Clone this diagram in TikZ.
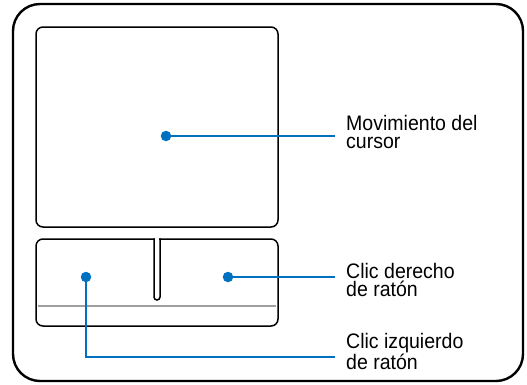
\documentclass[tikz,border=0pt]{standalone}
\usepackage{fontspec}
\setmainfont{Liberation Sans}
\newfontfamily\lblfont[FakeStretch=0.93]{Liberation Sans}
\definecolor{padblue}{RGB}{0,112,192}
\begin{document}
\begin{tikzpicture}[x=1pt,y=-1pt,
  framestyle/.style={draw,line width=2.4pt,rounded corners=27},
  padstyle/.style={draw,line width=1.5pt,rounded corners=7},
  dotstyle/.style={circle,fill=padblue,inner sep=0,minimum size=10.5},
  leadstyle/.style={draw=padblue,line width=2pt},
  lblstyle/.style={anchor=base west,inner sep=0,align=left,font=\lblfont\fontsize{21}{17.5}\selectfont}]
 \useasboundingbox (0,0) rectangle (527,384);
 \draw[framestyle] (13,4) rectangle (523,381);

 \draw[padstyle] (36,27) rectangle (278,227);
 \draw[padstyle] (36,239) rectangle (278,326);
 \fill[white] (154.8,237) rectangle (159.2,241);
 \draw[line width=1.5pt] (154,238.3) -- (154,297) arc (180:0:3) -- (160,238.3);
 \draw[gray!75,line width=1.5pt] (38,306) -- (276,306);

 \node[dotstyle] (movedot) at (166,136) {};
 \node[dotstyle] (rightdot) at (228,277) {};
 \node[dotstyle] (leftdot) at (86,277) {};
 \coordinate (moveend) at (335,136);
 \coordinate (rightend) at (335,277);
 \coordinate (leftend) at (335,357);
 \draw[leadstyle] (movedot.center) -- (moveend);
 \draw[leadstyle] (rightdot.center) -- (rightend);
 \draw[leadstyle] (leftdot.center) |- (leftend);

 \node[lblstyle] (movelbl) at (346,148) {Movimiento del\\cursor};
 \node[lblstyle] (rightlbl) at (346,296) {Clic derecho\\de ratón};
 \node[lblstyle] (leftlbl) at (346,369) {Clic izquierdo\\de ratón};
\end{tikzpicture}
\end{document}
